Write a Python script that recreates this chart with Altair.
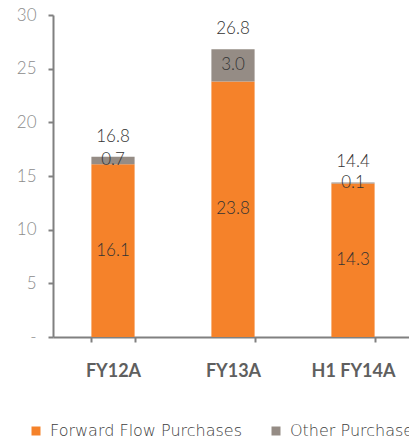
import altair as alt
import pandas as pd

categories = ["FY12A", "FY13A", "H1 FY14A"]
forward_flow = [16.1, 23.8, 14.3]
other = [0.7, 3.0, 0.1]
totals = [16.8, 26.8, 14.4]
series_names = ["Forward Flow Purchases", "Other Purchases"]
colors = ["#F5822A", "#958C85"]

rows = []
for i, c in enumerate(categories):
    rows.append({"category": c, "series": series_names[0], "order": 0, "value": forward_flow[i]})
    rows.append({"category": c, "series": series_names[1], "order": 1, "value": other[i]})
df = pd.DataFrame(rows)
tot_df = pd.DataFrame({"category": categories, "total": totals})

FONT = "Lato"
LEG_FONT = "DejaVu Sans"

xscale = alt.Scale(domain=categories, range=[0, 360], paddingInner=0.64, paddingOuter=0.32)
yscale = alt.Scale(domain=[0, 30], nice=False)

x_enc = alt.X("category:N", scale=xscale, sort=categories, title=None,
              axis=alt.Axis(labelAngle=0, tickBand="extent", domainColor="#808080", domainWidth=2,
                            tickColor="#808080", tickWidth=2, tickSize=5,
                            labelFont=FONT, labelFontSize=18, labelFontWeight="bold",
                            labelColor="#5F5F5F", labelPadding=20))

base = alt.Chart(df).transform_stack(
    stack="value", groupby=["category"], sort=[alt.SortField("order", order="ascending")],
    as_=["y0", "y1"]
).transform_calculate(mid="(datum.y0 + datum.y1) / 2")

bars = base.mark_bar().encode(
    x=x_enc,
    y=alt.Y("y0:Q", scale=yscale, title=None,
            axis=alt.Axis(values=[0, 5, 10, 15, 20, 25, 30], grid=False,
                          labelExpr="datum.value == 0 ? '-' : datum.label",
                          domainColor="#808080", domainWidth=2, tickColor="#808080",
                          tickWidth=2, tickSize=5, labelFont=FONT, labelFontSize=17,
                          labelFontWeight=300, labelColor="#8C8C8C", labelPadding=12)),
    y2="y1:Q",
    color=alt.Color("series:N", scale=alt.Scale(domain=series_names, range=colors),
                    legend=alt.Legend(title=None, orient="none", direction="horizontal",
                                      legendX=-25, legendY=408, symbolType="square",
                                      symbolSize=81, symbolStrokeWidth=0, labelFont=LEG_FONT,
                                      labelFontSize=16, labelFontWeight=200,
                                      labelColor="#404040", labelOffset=6,
                                      columnPadding=25, labelLimit=400)),
)

seg_labels = base.mark_text(font=FONT, fontSize=17, fontWeight=300, color="#333333").encode(
    x=alt.X("category:N", scale=xscale, sort=categories),
    y=alt.Y("mid:Q", scale=yscale),
    text=alt.Text("value:Q", format=".1f"),
)

tot_labels = alt.Chart(tot_df).mark_text(font=FONT, fontSize=17, fontWeight=300,
                                         color="#333333", dy=-20).encode(
    x=alt.X("category:N", scale=xscale, sort=categories),
    y=alt.Y("total:Q", scale=yscale),
    text=alt.Text("total:Q", format=".1f"),
)

chart = alt.layer(bars, seg_labels, tot_labels).properties(
    width=356, height=322,
    padding={"left": 53, "top": 15, "right": 0, "bottom": 104},
    autosize=alt.AutoSizeParams(type="none"),
).configure_view(stroke=None)

chart.save("out.html", embed_options={"renderer": "svg", "actions": False})
